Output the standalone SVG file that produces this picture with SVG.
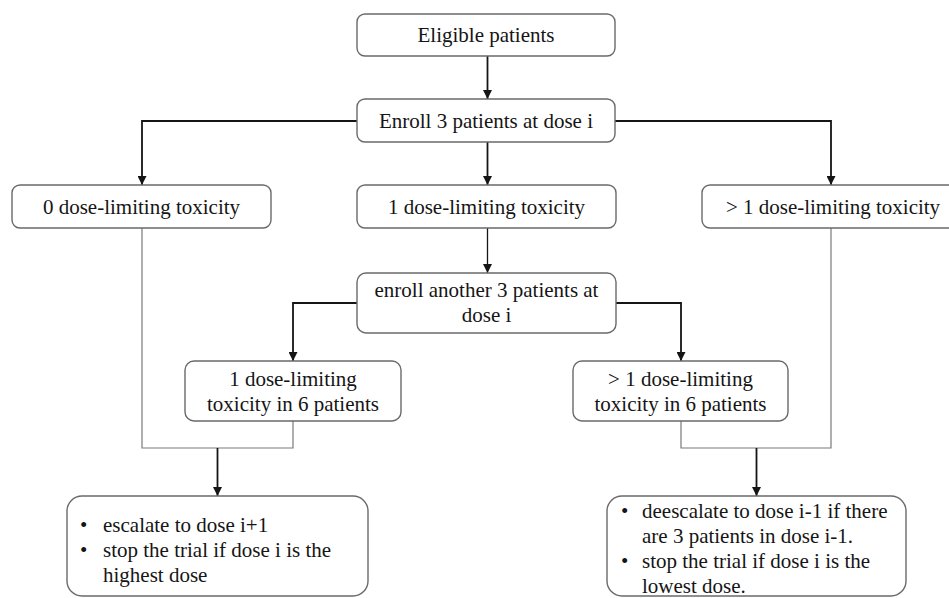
<svg xmlns="http://www.w3.org/2000/svg" width="949" height="598" viewBox="0 0 949 598">
  <style>
    .box { fill: #ffffff; stroke: #6a6a6a; stroke-width: 1.4; }
    .t { font-family: "Liberation Serif", "Times New Roman", serif; font-size: 21px; fill: #151515; }
    .c { text-anchor: middle; }
    .thick { fill: none; stroke: #151515; stroke-width: 1.8; }
    .thin { fill: none; stroke: #7a7a7a; stroke-width: 1.2; }
  </style>
  <defs>
    <marker id="ah" markerUnits="userSpaceOnUse" markerWidth="9" markerHeight="9" refX="9" refY="4.5" orient="auto">
      <path d="M0,0 L9,4.5 L0,9 Z" fill="#151515"/>
    </marker>
  </defs>
  <rect x="0" y="0" width="949" height="598" fill="#ffffff"/>

  <g id="connectors">
    <path class="thick" d="M487.5,56 V99" marker-end="url(#ah)"/>
    <path class="thick" d="M357,121 H142 V185" marker-end="url(#ah)"/>
    <path class="thick" d="M615,121 H831 V185" marker-end="url(#ah)"/>
    <path class="thick" d="M487.5,142 V185" marker-end="url(#ah)"/>
    <path class="thick" d="M487.5,228 V273" marker-end="url(#ah)" style="stroke-width:1.3"/>
    <path class="thick" d="M357,303 H293 V361" marker-end="url(#ah)"/>
    <path class="thick" d="M616,303 H681 V361" marker-end="url(#ah)"/>
    <path class="thin" d="M142,228 V448 H293 V421"/>
    <path class="thick" d="M217.5,448 V496" marker-end="url(#ah)"/>
    <path class="thin" d="M681,421 V448 H831 V228"/>
    <path class="thick" d="M756.5,448 V496" marker-end="url(#ah)"/>
  </g>

  <g id="eligible">
    <rect class="box" x="357" y="14" width="258" height="42" rx="8"/>
    <text class="t c" x="486" y="42">Eligible patients</text>
  </g>
  <g id="enroll3">
    <rect class="box" x="357" y="99" width="258" height="43" rx="8"/>
    <text class="t c" x="486" y="128">Enroll 3 patients at dose i</text>
  </g>
  <g id="dlt0">
    <rect class="box" x="12" y="185" width="259" height="43" rx="8"/>
    <text class="t c" x="141.5" y="214">0 dose-limiting toxicity</text>
  </g>
  <g id="dlt1">
    <rect class="box" x="357" y="185" width="259" height="43" rx="8"/>
    <text class="t c" x="486.5" y="214">1 dose-limiting toxicity</text>
  </g>
  <g id="dltgt1">
    <rect class="box" x="702" y="185" width="262" height="43" rx="8"/>
    <text class="t c" x="833" y="214">&gt; 1 dose-limiting toxicity</text>
  </g>
  <g id="enrollAnother">
    <rect class="box" x="357" y="273" width="259" height="60" rx="9"/>
    <text class="t c" x="486.5" y="297">enroll another 3 patients at</text>
    <text class="t c" x="486.5" y="322">dose i</text>
  </g>
  <g id="dlt1of6">
    <rect class="box" x="185" y="361" width="216" height="60" rx="9"/>
    <text class="t c" x="293" y="386">1 dose-limiting</text>
    <text class="t c" x="293" y="411">toxicity in 6 patients</text>
  </g>
  <g id="dltgt1of6">
    <rect class="box" x="573" y="361" width="215" height="60" rx="9"/>
    <text class="t c" x="680.5" y="386">&gt; 1 dose-limiting</text>
    <text class="t c" x="680.5" y="411">toxicity in 6 patients</text>
  </g>
  <g id="escalate">
    <rect class="box" x="67" y="496" width="301" height="100" rx="15"/>
    <text class="t" x="80" y="532">•</text>
    <text class="t" x="103" y="532">escalate to dose i+1</text>
    <text class="t" x="80" y="557">•</text>
    <text class="t" x="103" y="557">stop the trial if dose i is the</text>
    <text class="t" x="103" y="582">highest dose</text>
  </g>
  <g id="deescalate">
    <rect class="box" x="607" y="496" width="299" height="100" rx="15"/>
    <text class="t" x="621" y="518">•</text>
    <text class="t" x="642" y="518">deescalate to dose i-1 if there</text>
    <text class="t" x="642" y="543">are 3 patients in dose i-1.</text>
    <text class="t" x="621" y="568">•</text>
    <text class="t" x="642" y="568">stop the trial if dose i is the</text>
    <text class="t" x="642" y="593">lowest dose.</text>
  </g>
</svg>
